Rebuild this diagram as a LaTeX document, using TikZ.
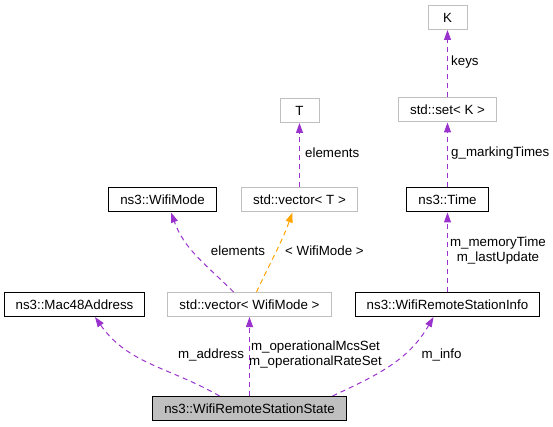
\documentclass[tikz,border=0pt]{standalone}
\usepackage{fontspec}
\setmainfont{Liberation Sans}
\usepackage{xcolor}
\usepackage{tikz}
\usetikzlibrary{arrows.meta}
\definecolor{edgepurple}{HTML}{9A32CD}
\definecolor{edgeorange}{HTML}{FFA500}
\definecolor{boxgrey}{HTML}{BFBFBF}

\begin{document}
\begin{tikzpicture}[x=1pt, y=-1pt,
    every node/.style={font=\fontsize{13.33}{15}\selectfont},
    cls/.style={draw=black, line width=1pt, minimum width=39pt, minimum height=24pt, inner xsep=11.5pt, inner ysep=0pt},
    tpl/.style={cls, draw=boxgrey},
    cur/.style={cls, fill=boxgrey},
    dep/.style={color=edgepurple, line width=1pt, dash pattern=on 5pt off 4pt, -{Triangle[length=10pt,width=7pt]}},
    inst/.style={dep, color=edgeorange},
    lbl/.style={inner sep=0pt}]
    \useasboundingbox (0,0) rectangle (553,427);

    % Classes
    \node[tpl] (K) at (447.5,17.5) {K};
    \node[tpl] (setK) at (447.5,110) {std::set< K >};
    \node[tpl] (T) at (299.5,110.5) {T};
    \node[cls] (Time) at (447.5,200) {ns3::Time};
    \node[tpl] (vecT) at (299.5,200) {std::vector< T >};
    \node[cls] (mode) at (162.5,200) {ns3::WifiMode};
    \node[cls] (mac) at (74.5,304.5) {ns3::Mac48Address};
    \node[tpl] (vecMode) at (249.5,304.5) {std::vector< WifiMode >};
    \node[cls] (info) at (447.5,304.5) {ns3::WifiRemoteStationInfo};
    \node[cur] (state) at (249.5,408.5) {ns3::WifiRemoteStationState};

    % Members
    \draw[dep] (setK) -- (K);
    \draw[dep] (Time) -- (setK);
    \draw[dep] (vecT) -- (T);
    \draw[dep] (info) -- (Time);
    \draw[dep] (state) -- (vecMode);
    \draw[dep] ([xshift=-16pt]vecMode.north) to[out=135,in=-70] ([xshift=8.5pt]mode.south);
    \draw[inst] ([xshift=7pt]vecMode.north) to[out=65,in=-110] ([xshift=-7pt]vecT.south);
    \draw[dep] ([xshift=-30pt]state.north) to[out=150,in=-55] ([xshift=20.5pt]mac.south);
    \draw[dep] ([xshift=83pt]state.north) to[out=25,in=-120] ([xshift=-14pt]info.south);

    % Labels
    \node[lbl, anchor=west] (keysL) at (451,62) {keys};
    \node[lbl, anchor=west] (markL) at (451,153) {g\_markingTimes};
    \node[lbl, anchor=west] (elemTL) at (305,153) {elements};
    \node[lbl] (elemModeL) at (238,251) {elements};
    \node[lbl, anchor=west] (argL) at (285,251) {< WifiMode >};
    \node[lbl, align=center] (timeL) at (498,251) {m\_memoryTime\\m\_lastUpdate};
    \node[lbl] (addrL) at (211,355) {m\_address};
    \node[lbl, align=center] (setL) at (315.5,355) {m\_operationalMcsSet\\m\_operationalRateSet};
    \node[lbl] (infoL) at (441.5,355) {m\_info};
\end{tikzpicture}
\end{document}
